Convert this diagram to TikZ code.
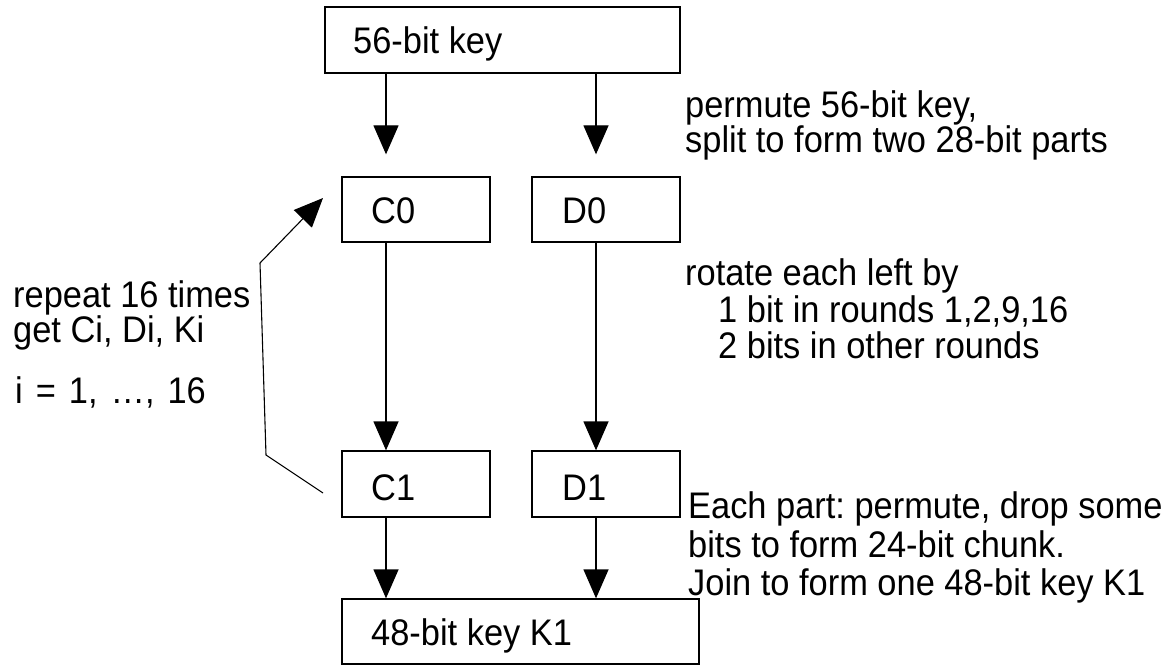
\documentclass[tikz,border=0pt]{standalone}
\usepackage{fontspec}
\setmainfont[FakeStretch=0.93]{Liberation Sans}
\usetikzlibrary{arrows.meta}
\frenchspacing
\begin{document}
\begin{tikzpicture}[x=1pt,y=-1pt,
  box/.style={draw,line width=1.3pt,rectangle,inner sep=0pt},
  txt/.style={anchor=base west,inner sep=0pt,font=\fontsize{37}{38}\selectfont},
  arr/.style={line width=1.3pt,-{Triangle[length=29pt,width=25pt]}},
  loopline/.style={line width=1.1pt}]
\useasboundingbox (0,0) rectangle (1172,666);
% columns
\coordinate (cx) at (386,0);
\coordinate (dx) at (596,0);
% boxes
\node[box,minimum width=355pt,minimum height=66pt] (key56) at (502.5,40) {};
\node[box,minimum width=148pt,minimum height=65pt] (C0) at (416,209.5) {};
\node[box,minimum width=148pt,minimum height=65pt] (D0) at (606,209.5) {};
\node[box,minimum width=148pt,minimum height=66pt] (C1) at (416,484) {};
\node[box,minimum width=148pt,minimum height=66pt] (D1) at (606,484) {};
\node[box,minimum width=357pt,minimum height=65pt] (K1) at (520.5,631.5) {};
% box texts
\node[txt] (t56) at (353,54) {56-bit key};
\node[txt] (tC0) at (371,223) {C0};
\node[txt] (tD0) at (562,223) {D0};
\node[txt] (tC1) at (371,500) {C1};
\node[txt] (tD1) at (562,500) {D1};
\node[txt] (tK1) at (371,645) {48-bit key K1};
% side texts
\node[txt] (p1) at (685,118) {permute 56-bit key,};
\node[txt] (p2) at (685,153) {split to form two 28-bit parts};
\node[txt] (r1) at (685,285) {rotate each left by};
\node[txt] (r2) at (718,322) {1 bit in rounds 1,2,9,16};
\node[txt] (r3) at (718,358) {2 bits in other rounds};
\node[txt] (l1) at (13,307) {repeat 16 times};
\node[txt] (l2) at (13,342) {get Ci, Di, Ki};
\node[txt] (l3) at (15,403) {\spaceskip=13pt i = 1, …, 16};
\node[txt] (e1) at (688,518) {Each part: permute, drop some};
\node[txt] (e2) at (688,557) {bits to form 24-bit chunk.};
\node[txt] (e3) at (688,595) {Join to form one 48-bit key K1};
% connectors
\draw[arr,shorten >=22pt] (key56.south -| cx) -- (C0.north -| cx);
\draw[arr,shorten >=22pt] (key56.south -| dx) -- (D0.north -| dx);
\draw[arr] (C0.south -| cx) -- (C1.north -| cx);
\draw[arr] (D0.south -| dx) -- (D1.north -| dx);
\draw[arr] (C1.south -| cx) -- (K1.north -| cx);
\draw[arr] (D1.south -| dx) -- (K1.north -| dx);
% loop back
\coordinate (ls) at (323,493);
\coordinate (lb) at (266,455);
\coordinate (lt) at (260,263);
\coordinate (le) at (323,198);
\draw[loopline] (ls) -- (lb) -- (lt);
\draw[loopline,-{Triangle[length=29pt,width=25pt]}] (lt) -- (le);
\end{tikzpicture}
\end{document}
